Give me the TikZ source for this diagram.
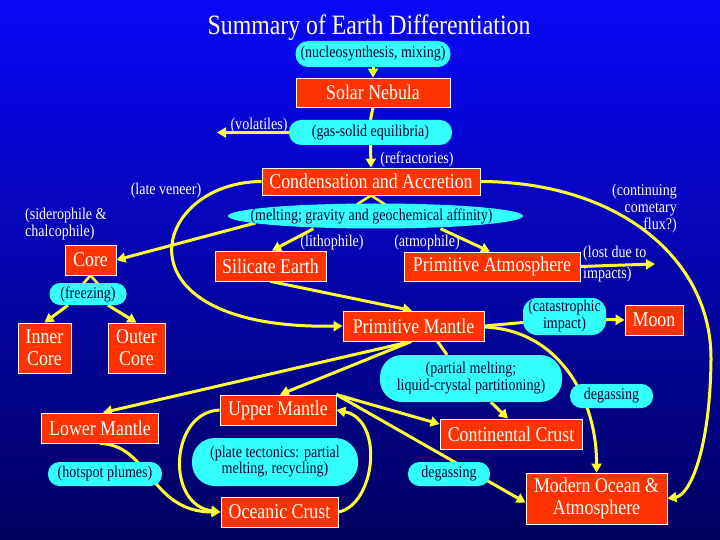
\documentclass[tikz,border=0pt]{standalone}
\usepackage{fontspec}
\setmainfont{Liberation Serif}[FakeStretch=0.85]
\usetikzlibrary{arrows.meta,shapes.geometric}
\definecolor{boxred}{RGB}{255,51,0}
\definecolor{pillcyan}{RGB}{51,255,255}
\definecolor{pilltxt}{RGB}{0,0,51}
\definecolor{arrowyel}{RGB}{255,255,51}
\definecolor{titleyel}{RGB}{255,255,204}
\definecolor{bgtop}{RGB}{8,8,248}
\definecolor{bgbot}{RGB}{0,0,95}
\pgfdeclarelayer{back}
\pgfdeclarelayer{lines}
\pgfsetlayers{back,lines,main}
\begin{document}
\begin{tikzpicture}[x=1pt,y=-1pt,
 redbox/.style={fill=boxred,draw=white,line width=0.8pt,text=white,font=\fontsize{21}{22}\selectfont,inner sep=0pt,align=center},
 pill/.style={fill=pillcyan,text=pilltxt,font=\fontsize{16.5}{17}\selectfont,inner sep=0pt,align=center},
 lbl/.style={text=white,font=\fontsize{16.5}{17}\selectfont,inner sep=0pt},
 conn/.style={draw=arrowyel,line width=3pt},
 arr/.style={conn,-{Triangle[length=9pt,width=10pt]}},
]
\useasboundingbox (0,0) rectangle (720,540);
\begin{pgfonlayer}{back}
\shade[top color=bgtop,bottom color=bgbot] (0,0) rectangle (720,540);
\end{pgfonlayer}

\node[font=\fontsize{28}{30}\selectfont,text=titleyel,inner sep=0pt] (title) at (369,28) {Summary of Earth Differentiation};

\node[pill,minimum width=155pt,minimum height=26pt,rounded corners=12.5pt] (nuc) at (373,54) {(nucleosynthesis, mixing)};
\node[redbox,minimum width=154pt,minimum height=29pt] (sn) at (373,92.5) {Solar Nebula};
\node[pill,minimum width=163pt,minimum height=25pt,rounded corners=12pt] (gs) at (370.5,132.5) {(gas-solid equilibria)};
\node[lbl] (vol) at (259,126) {(volatiles)};
\coordinate (volend) at (217,132.5);
\node[lbl] (refr) at (417,159) {(refractories)};
\node[redbox,minimum width=218pt,minimum height=27pt] (ca) at (371,181.5) {Condensation and Accretion};
\node[ellipse,fill=pillcyan,minimum width=295pt,minimum height=25pt,inner sep=0pt,
      label={[pill,fill=none,xshift=-4pt]center:(melting; gravity and geochemical affinity)}] (melt) at (375.5,216) {};
\node[lbl] (lv) at (166,191) {(late veneer)};
\node[lbl,align=left,anchor=west] (sid) at (25,224.5) {(siderophile \&\\chalcophile)};
\node[lbl] (lith) at (332,243) {(lithophile)};
\node[lbl] (atm) at (427,243) {(atmophile)};
\node[redbox,minimum width=111pt,minimum height=30pt] (se) at (270.5,266) {Silicate Earth};
\node[redbox,minimum width=176pt,minimum height=29pt] (pa) at (492,266.5) {Primitive Atmosphere};
\node[lbl,align=left,anchor=west,font=\fontsize{16.5}{21.5}\selectfont] (lost) at (583,264) {(lost due to\\impacts)};
\coordinate (lostend) at (655,264);
\node[lbl,align=right,anchor=east] (comet) at (677,209) {(continuing\\cometary\\flux?)};
\node[redbox,minimum width=51pt,minimum height=30pt] (core) at (90.5,260) {Core};
\node[pill,minimum width=77pt,minimum height=22pt,rounded corners=10.5pt] (freeze) at (88,294) {(freezing)};
\node[redbox,minimum width=53pt,minimum height=50pt] (ic) at (44.5,348) {Inner\\Core};
\node[redbox,minimum width=57pt,minimum height=50pt] (oc) at (136.5,348) {Outer\\Core};
\node[redbox,minimum width=141pt,minimum height=30pt] (pm) at (413.5,326) {Primitive Mantle};
\node[pill,minimum width=83pt,minimum height=37pt,rounded corners=14pt] (cat) at (564.5,316.5) {(catastrophic\\impact)};
\node[redbox,minimum width=58pt,minimum height=30pt] (moon) at (654,320) {Moon};
\node[pill,minimum width=182pt,minimum height=47pt,rounded corners=22pt] (pmelt) at (471,378.5) {(partial melting;\\liquid-crystal partitioning)};
\node[redbox,minimum width=142pt,minimum height=30pt] (cc) at (511,434) {Continental Crust};
\node[pill,minimum width=83pt,minimum height=24pt,rounded corners=11.5pt] (degR) at (611.5,396) {degassing};
\node[redbox,minimum width=141pt,minimum height=51pt] (mo) at (596.5,498.5) {Modern Ocean \&\\Atmosphere};
\node[redbox,minimum width=116pt,minimum height=30pt] (um) at (278,410) {Upper Mantle};
\node[redbox,minimum width=117pt,minimum height=30pt] (lm) at (100,428) {Lower Mantle};
\node[pill,minimum width=114pt,minimum height=24pt,rounded corners=11.5pt] (hot) at (105,474) {(hotspot plumes)};
\node[pill,minimum width=166pt,minimum height=48pt,rounded corners=23pt,font=\fontsize{16.5}{16}\selectfont] (plate) at (275,462) {(plate tectonics: partial\\melting, recycling)};
\node[redbox,minimum width=117pt,minimum height=30pt] (ocr) at (279.5,512) {Oceanic Crust};
\node[pill,minimum width=82pt,minimum height=24pt,rounded corners=11.5pt] (degL) at (449,474) {degassing};

\begin{pgfonlayer}{lines}
\draw[arr] (nuc.south) -- (sn.north);
\draw[conn] (sn.south) -- (gs.north);
\draw[arr] (gs.west) -- (volend);
\draw[arr] (gs.south) -- (ca.north);
\draw[conn,line width=2.5pt] ([xshift=-14pt,yshift=-9pt]ca.south) -- (ca.south) -- ([xshift=14pt,yshift=-9pt]ca.south);
\draw[arr] ([xshift=-120pt,yshift=-7pt]melt.center) -- (core.east);
\draw[arr] ([xshift=-62pt]melt.south) -- ([xshift=1.5pt]se.north);
\draw[arr] ([xshift=65pt]melt.south) -- ([xshift=-2pt]pa.north);
\draw[arr] (ca.west) .. controls (150,182) and (110,330) .. (pm.west);
\draw[arr] (ca.east) .. controls (620,182) and (712,260) .. (711,360) .. controls (710,450) and (690,495) .. (mo.east);
\draw[arr] (se.south) -- ([xshift=-1.5pt]pm.north);
\draw[arr] (pa.east) -- (lostend);
\draw[conn,line width=2.5pt] ([xshift=-8pt,yshift=-9pt]core.south) -- (core.south) -- ([xshift=8pt,yshift=-9pt]core.south);
\draw[arr] ([xshift=-20pt]freeze.south) -- (ic.north);
\draw[arr] ([xshift=20pt]freeze.south) -- (oc.north);
\draw[conn] (pm.east) -- ([yshift=-6pt]cat.west);
\draw[arr] ([yshift=-3pt]cat.east) -- (moon.west);
\draw[conn] ([xshift=24pt]pm.south) -- ([xshift=-24pt]pmelt.north);
\draw[arr] ([xshift=20pt]pmelt.south) -- ([xshift=-3pt]cc.north);
\draw[arr] ([yshift=-1pt]pm.east) .. controls (560,330) and (597,400) .. (mo.north);
\draw[arr] ([xshift=-2pt]pm.south) -- ([xshift=3pt]lm.north);
\draw[arr] ([xshift=-2pt]pm.south) -- ([xshift=2pt]um.north);
\draw[arr] (um.north east) -- ([yshift=10pt]cc.west);
\draw[arr] (um.north east) -- ([yshift=-4pt]mo.west);
\draw[arr] (ocr.east) .. controls (375,505) and (385,420) .. (um.east);
\draw[arr] (um.west) .. controls (170,412) and (165,505) .. (ocr.west);
\draw[arr] (lm.south) .. controls (150,445) and (150,512) .. (ocr.west);
\end{pgfonlayer}
\end{tikzpicture}
\end{document}
